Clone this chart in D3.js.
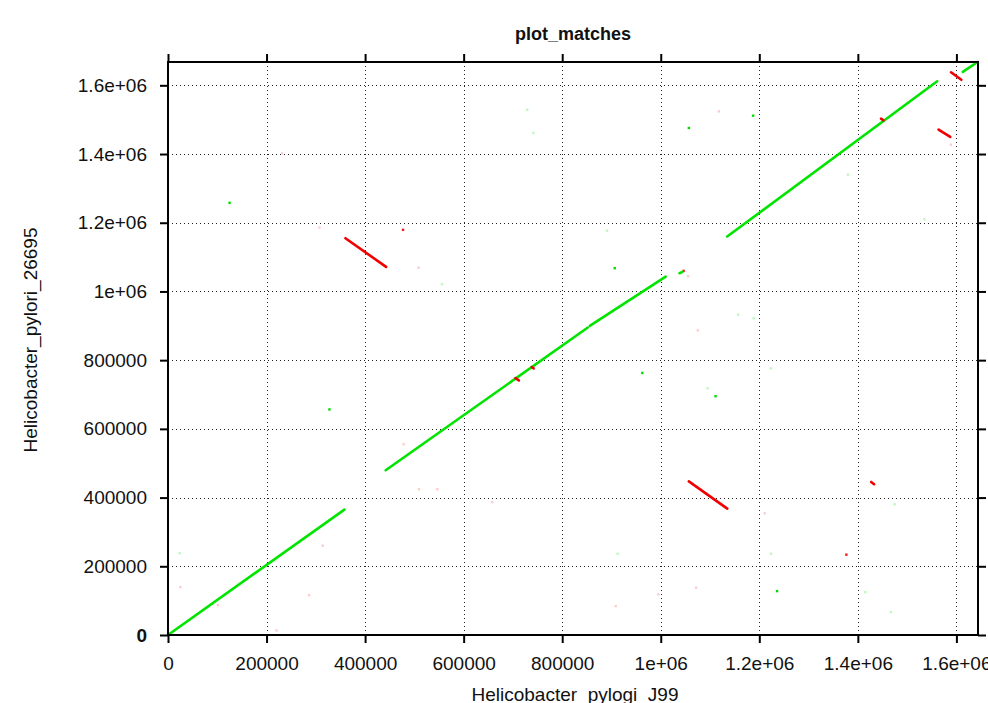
<!DOCTYPE html>
<html>
<head>
<meta charset="utf-8">
<script src="https://cdn.jsdelivr.net/npm/d3@7"></script>
<style>
  html, body { margin: 0; padding: 0; background: #fff; overflow: hidden; }
  svg { display: block; font-family: "Liberation Sans", Arial, Helvetica, sans-serif; }
</style>
</head>
<body>
<svg width="988" height="703"></svg>
<script>
// genome lengths (axis extents)
const lenX = 1643831;
const lenY = 1667867;

const tickValues = [0, 200000, 400000, 600000, 800000, 1000000, 1200000, 1400000, 1600000];
const tickLabels = ["0", "200000", "400000", "600000", "800000", "1e+06", "1.2e+06", "1.4e+06", "1.6e+06"];

// forward matches [x1, y1, x2, y2]
const fwdMatches = [
    [0, 0, 358000, 365000],
    [441800, 479600, 852000, 895000],
    [856000, 900000, 1010000, 1043000],
    [1134800, 1159800, 1561000, 1611800],
    [1613000, 1639000, 1643000, 1668000],
    [1038000, 1053000, 1044000, 1057000]
];

// reverse matches [x1, y1, x2, y2]
const revMatches = [
    [360100, 1155000, 442600, 1071400],
    [1057000, 447000, 1135000, 368000],
    [1589000, 1638000, 1610000, 1616000],
    [1563800, 1471000, 1587500, 1449700],
    [1427000, 445500, 1433000, 438800],
    [705000, 748000, 712000, 741000],
    [738000, 780000, 742000, 776000],
    [1447000, 1503000, 1452000, 1498000]
];

// short isolated hits [x, y]
const fwdDots = [
    [327700, 656600], [962500, 762800], [1111200, 695000], [1236000, 127700],
    [1057000, 1475800], [1187400, 1511700], [906600, 1067600], [125000, 1258000]
];
const fwdFaint = [
    [729000, 1529000], [741600, 1461300], [23700, 238000], [912600, 236700],
    [1223900, 236700], [1415200, 124800], [1467000, 66500], [556000, 1021000],
    [891000, 1177000], [1188800, 922000], [1095000, 717800], [1223300, 776100],
    [1474500, 380500], [1157000, 932400], [1380000, 1340000], [1535000, 1210000]
];
const revDots = [
    [1376700, 233800], [1046400, 1059800], [477000, 1179300]
];
const revFaint = [
    [25100, 139400], [101300, 86900], [286500, 116000], [220300, 13100],
    [314100, 260100], [508600, 1069400], [307400, 1186000], [478200, 555400],
    [509400, 424200], [546500, 424200], [657900, 386900], [1055700, 1044300],
    [1075300, 886900], [908600, 84000], [1071900, 137600], [994900, 118100],
    [1117900, 1524200], [1588700, 1427100], [1211100, 354200], [231800, 1401800]
];

function drawChart() {
    let svg = d3.select("svg");

    attr_area = {
        left: 168,
        right: 978,
        top: 62,
        bottom: 635
    };

    let scX = d3.scaleLinear().domain([0, lenX]).range([attr_area.left, attr_area.right]);
    let scY = d3.scaleLinear().domain([0, lenY]).range([attr_area.bottom, attr_area.top]);

    // dotted grid
    let grid = svg.append("g")
        .attr("stroke", "#222")
        .attr("stroke-width", 1)
        .attr("stroke-dasharray", "1,3");
    grid.selectAll(".gx")
        .data(tickValues.slice(1))
        .enter()
        .append("line")
        .attr("x1", d => Math.round(scX(d)) + 0.5)
        .attr("x2", d => Math.round(scX(d)) + 0.5)
        .attr("y1", attr_area.top)
        .attr("y2", attr_area.bottom);
    grid.selectAll(".gy")
        .data(tickValues.slice(1))
        .enter()
        .append("line")
        .attr("y1", d => Math.round(scY(d)) + 0.5)
        .attr("y2", d => Math.round(scY(d)) + 0.5)
        .attr("x1", attr_area.left)
        .attr("x2", attr_area.right);

    // matches
    drawDots(svg, fwdFaint, scX, scY, "#00e000", 0.25);
    drawDots(svg, revFaint, scX, scY, "#ff0000", 0.2);
    drawDots(svg, fwdDots, scX, scY, "#00dd00", 1);
    drawDots(svg, revDots, scX, scY, "#ee0000", 0.9);
    drawSegments(svg, fwdMatches, scX, scY, "#00e400");
    drawSegments(svg, revMatches, scX, scY, "#f00000");

    // axes
    let fmt = (d, i) => tickLabels[i];
    let axisB = svg.append("g")
        .attr("transform", `translate(0, ${attr_area.bottom})`)
        .call(d3.axisBottom(scX).tickValues(tickValues).tickFormat(fmt).tickSize(8));
    axisB.selectAll("text").attr("y", 35).attr("dy", 0);

    let axisL = svg.append("g")
        .attr("transform", `translate(${attr_area.left}, 0)`)
        .call(d3.axisLeft(scY).tickValues(tickValues).tickFormat(fmt).tickSize(8).tickPadding(13));
    axisL.selectAll("text").filter((d, i) => i === 0).style("font-weight", "bold");

    svg.append("g")
        .attr("transform", `translate(0, ${attr_area.top})`)
        .call(d3.axisTop(scX).tickValues(tickValues).tickFormat("").tickSize(8));
    svg.append("g")
        .attr("transform", `translate(${attr_area.right}, 0)`)
        .call(d3.axisRight(scY).tickValues(tickValues).tickFormat("").tickSize(8));

    svg.selectAll(".domain").remove();
    svg.selectAll(".tick line").attr("stroke", "#000").attr("stroke-width", 2);
    svg.selectAll(".tick text")
        .attr("fill", "#111")
        .style("font-size", "19px")
        .style("font-family", "'Liberation Sans', Arial, Helvetica, sans-serif");

    // frame
    svg.append("rect")
        .attr("x", attr_area.left)
        .attr("y", attr_area.top)
        .attr("width", attr_area.right - attr_area.left)
        .attr("height", attr_area.bottom - attr_area.top)
        .attr("fill", "none")
        .attr("stroke", "#000")
        .attr("stroke-width", 2);

    // texts
    svg.append("text")
        .attr("x", (attr_area.left + attr_area.right) / 2)
        .attr("y", 40)
        .attr("text-anchor", "middle")
        .style("font-size", "18px")
        .style("font-weight", "bold")
        .attr("fill", "#111")
        .text("plot_matches");

    svg.append("text")
        .attr("x", 575)
        .attr("y", 701)
        .attr("text-anchor", "middle")
        .style("font-size", "19px")
        .attr("fill", "#111")
        .text("Helicobacter_pylogi_J99");

    svg.append("text")
        .attr("transform", "translate(37, 340) rotate(-90)")
        .attr("text-anchor", "middle")
        .style("font-size", "19px")
        .attr("fill", "#111")
        .text("Helicobacter_pylori_26695");
}

function drawSegments(svg, data, scX, scY, color) {
    svg.append("g")
       .selectAll("line")
       .data(data)
       .enter()
       .append("line")
       .attr("x1", d => scX(d[0]))
       .attr("y1", d => scY(d[1]))
       .attr("x2", d => scX(d[2]))
       .attr("y2", d => scY(d[3]))
       .attr("stroke", color)
       .attr("stroke-width", 2.6)
       .attr("stroke-linecap", "round");
}

function drawDots(svg, data, scX, scY, color, opacity) {
    svg.append("g")
       .selectAll("rect")
       .data(data)
       .enter()
       .append("rect")
       .attr("x", d => scX(d[0]) - 1.2)
       .attr("y", d => scY(d[1]) - 1.2)
       .attr("width", 2.4)
       .attr("height", 2.4)
       .attr("fill", color)
       .attr("opacity", opacity);
}

drawChart();
</script>
</body>
</html>
